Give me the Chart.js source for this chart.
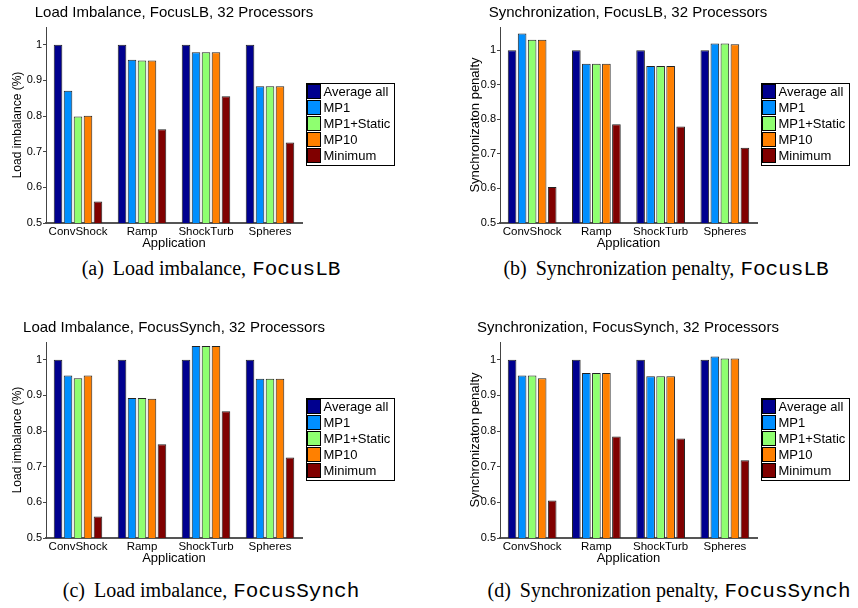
<!DOCTYPE html>
<html>
<head>
<meta charset="utf-8">
<script src="https://cdn.jsdelivr.net/npm/chart.js@4"></script>
<style>
  body { margin: 0; background: #fff; width: 858px; height: 608px; position: relative; overflow: hidden; }
  .panel { position: absolute; }
  .ttl { position: absolute; font-family: "Liberation Sans", Arial, sans-serif; font-size: 15px; line-height: 16px; color: #000; text-align: center; white-space: nowrap; width: 400px; }
  .cap { position: absolute; font-family: "Liberation Serif", "Times New Roman", serif; font-size: 20px; color: #000; text-align: center; white-space: nowrap; }
  .cap .tag { margin-right: 4px; }
  .cap code { font-family: "Liberation Mono", "Courier New", monospace; font-size: 21px; margin-left: 6px; }
</style>
</head>
<body>
<div class="panel" style="left:0;top:0;width:400px;height:250px"><canvas id="chartA"></canvas></div>
<div class="panel" style="left:430px;top:0;width:428px;height:250px"><canvas id="chartB"></canvas></div>
<div class="panel" style="left:0;top:315px;width:400px;height:250px"><canvas id="chartC"></canvas></div>
<div class="panel" style="left:430px;top:315px;width:428px;height:250px"><canvas id="chartD"></canvas></div>

<div class="ttl" style="left:-26px;top:4px">Load Imbalance, FocusLB, 32 Processors</div>
<div class="ttl" style="left:428px;top:4px">Synchronization, FocusLB, 32 Processors</div>
<div class="ttl" style="left:-26px;top:319px">Load Imbalance, FocusSynch, 32 Processors</div>
<div class="ttl" style="left:428px;top:319px">Synchronization, FocusSynch, 32 Processors</div>

<div class="cap" style="left:11px;top:257px;width:400px"><span class="tag">(a)</span> Load imbalance,<code>FocusLB</code></div>
<div class="cap" style="left:466px;top:257px;width:400px"><span class="tag">(b)</span> Synchronization penalty,<code>FocusLB</code></div>
<div class="cap" style="left:11px;top:579px;width:400px"><span class="tag">(c)</span> Load imbalance,<code>FocusSynch</code></div>
<div class="cap" style="left:469px;top:579px;width:400px"><span class="tag">(d)</span> Synchronization penalty,<code>FocusSynch</code></div>

<script>
const categories = ['ConvShock', 'Ramp', 'ShockTurb', 'Spheres'];
const seriesNames = ['Average all', 'MP1', 'MP1+Static', 'MP10', 'Minimum'];
const seriesColors = ['#00008F', '#008FFF', '#8FFF70', '#FF8000', '#800000'];

// one row per series, one value per category
const loadFocusLB = [
  [1, 1, 1, 1],
  [0.871, 0.958, 0.979, 0.884],
  [0.799, 0.956, 0.979, 0.884],
  [0.801, 0.956, 0.979, 0.884],
  [0.560, 0.763, 0.856, 0.726]
];
const syncFocusLB = [
  [1, 1, 1, 1],
  [1.048, 0.961, 0.954, 1.019],
  [1.030, 0.961, 0.954, 1.019],
  [1.030, 0.961, 0.954, 1.017],
  [0.604, 0.786, 0.779, 0.718]
];
const loadFocusSynch = [
  [1, 1, 1, 1],
  [0.956, 0.893, 1.039, 0.947],
  [0.948, 0.893, 1.039, 0.947],
  [0.956, 0.891, 1.039, 0.947],
  [0.560, 0.763, 0.856, 0.726]
];
const syncFocusSynch = [
  [1, 1, 1, 1],
  [0.956, 0.963, 0.954, 1.009],
  [0.956, 0.963, 0.954, 1.004],
  [0.948, 0.963, 0.954, 1.004],
  [0.605, 0.785, 0.779, 0.718]
];

Chart.defaults.font.family = '"Liberation Sans", Arial, sans-serif';
Chart.defaults.color = '#000';
Chart.defaults.animation = false;

// MATLAB style boxed legend to the right of the axes
const boxLegend = {
  id: 'boxLegend',
  afterDraw(chart, args, opts) {
    const ctx = chart.ctx;
    const area = chart.chartArea;
    const sets = chart.data.datasets;
    const rowH = 16, sw = 13;
    ctx.save();
    ctx.font = '13px "Liberation Sans", Arial, sans-serif';
    const textW = Math.max(...sets.map(d => ctx.measureText(d.label).width));
    const w = Math.round(1 + sw + 3 + textW + 4);
    const h = sets.length * rowH + 2;
    const x = Math.round(area.right + opts.gap) + 0.5;
    const y = Math.round((area.top + area.bottom - h) / 2) - 1 + 0.5;
    ctx.fillStyle = '#fff';
    ctx.fillRect(x, y, w, h);
    ctx.strokeStyle = '#000';
    ctx.lineWidth = 1;
    ctx.strokeRect(x, y, w, h);
    sets.forEach((d, i) => {
      const ry = y + 1 + i * rowH;
      ctx.fillStyle = d.backgroundColor;
      ctx.fillRect(x + 1, ry, sw, rowH - 2);
      ctx.strokeStyle = '#000';
      ctx.strokeRect(x + 1, ry, sw, rowH - 2);
      ctx.fillStyle = '#000';
      ctx.textBaseline = 'middle';
      ctx.fillText(d.label, x + 1 + sw + 3, ry + (rowH - 2) / 2 + 1);
    });
    ctx.restore();
  }
};

function makeChart(id, yTitle, rows, yMax, yWidth, yTitleSize, yTitlePad, rightPad) {
  new Chart(document.getElementById(id), {
    type: 'bar',
    data: {
      labels: categories,
      datasets: rows.map((vals, i) => ({
        label: seriesNames[i],
        data: vals,
        backgroundColor: seriesColors[i],
        borderColor: '#222',
        borderWidth: 1,
        categoryPercentage: 0.78,
        barPercentage: 0.86
      }))
    },
    options: {
      responsive: true,
      maintainAspectRatio: false,
      layout: { padding: { left: 0, top: 27, right: rightPad, bottom: 0 } },
      plugins: {
        legend: { display: false },
        tooltip: { enabled: false },
        boxLegend: { gap: 4 }
      },
      scales: {
        x: {
          grid: { display: false, drawTicks: false },
          border: { display: true, color: '#555', width: 2 },
          ticks: { font: { size: 11.5 }, padding: 2, maxRotation: 0 },
          title: { display: true, text: 'Application', font: { size: 13, lineHeight: 1 }, padding: { top: 0, bottom: 0 } },
          afterFit: s => { s.height = 27; }
        },
        y: {
          min: 0.5,
          max: yMax,
          grid: { display: true, drawOnChartArea: false, drawTicks: true, tickLength: 3, color: '#444' },
          border: { display: true, color: '#444', width: 1 },
          ticks: {
            stepSize: 0.1,
            includeBounds: false,
            padding: 1,
            font: { size: 11 },
            callback: v => String(+v.toFixed(1))
          },
          title: { display: true, text: yTitle, font: { size: yTitleSize, lineHeight: 1 }, padding: { top: yTitlePad, bottom: 0 } },
          afterFit: s => { s.width = yWidth; }
        }
      }
    },
    plugins: [boxLegend]
  });
}

makeChart('chartA', 'Load imbalance (%)', loadFocusLB, 1.05, 46, 12, 12, 98);
makeChart('chartB', 'Synchronizaton penalty', syncFocusLB, 1.067, 70, 13, 38.5, 101);
makeChart('chartC', 'Load imbalance (%)', loadFocusSynch, 1.05, 46, 12, 12, 98);
makeChart('chartD', 'Synchronizaton penalty', syncFocusSynch, 1.05, 70, 13, 38.5, 101);
</script>
</body>
</html>
